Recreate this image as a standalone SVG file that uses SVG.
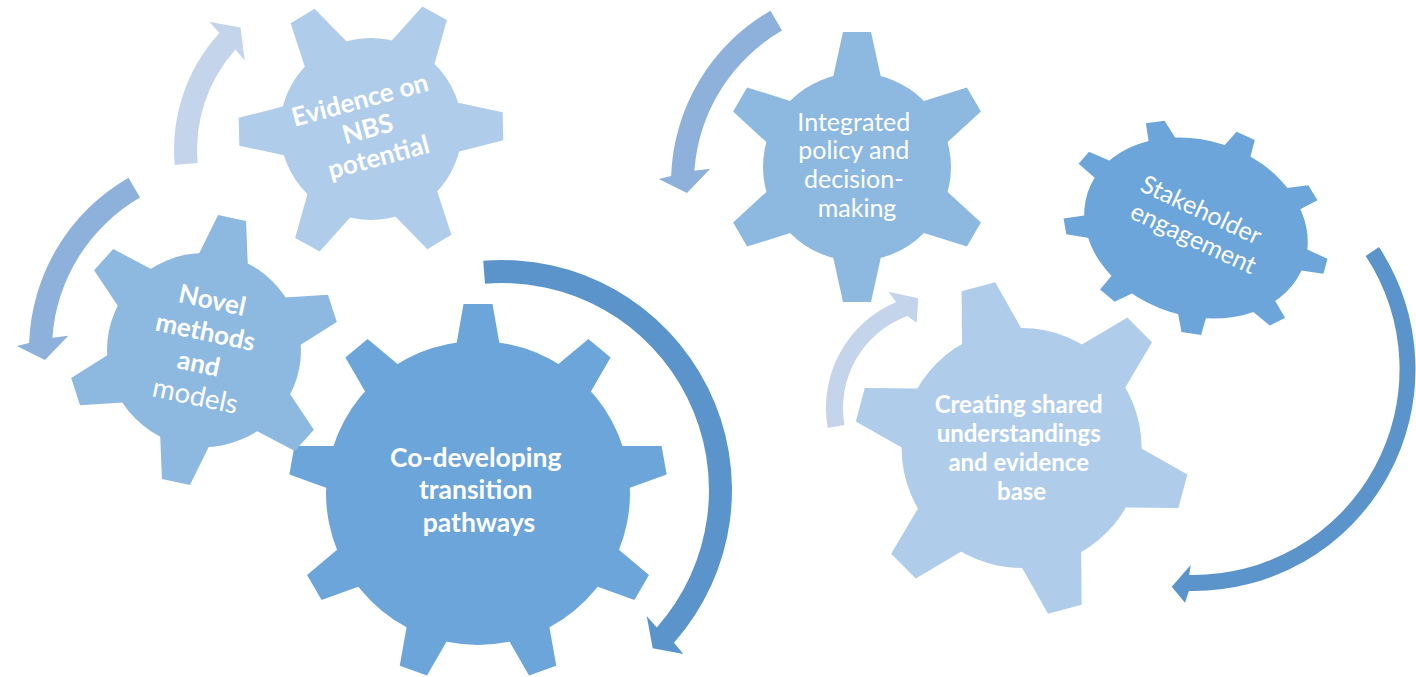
<svg xmlns="http://www.w3.org/2000/svg" xmlns:xlink="http://www.w3.org/1999/xlink" width="1416" height="677" viewBox="0 0 1416 677">
  <style>
    .g-light { fill: #AFCDEA; }
    .g-mid { fill: #8DB9E1; }
    .g-dark { fill: #6CA5D9; }
    .a-light { fill: #C4D5EB; }
    .a-mid { fill: #8EB1DB; }
    .a-dark { fill: #5A94CA; }
    .lbl { font-family: Lato, "Liberation Sans", sans-serif; fill: #FFFFFF; text-anchor: middle; }
    .b { font-weight: 700; }
    .r { font-weight: 400; }
  </style>
  <defs>
    <!-- one tooth per gear size, pointing up from the gear centre -->
    <path id="tooth-evidence" d="M-25.4,-83 L-14,-132 L14,-132 L25.4,-83Z"/>
    <path id="tooth-novel" d="M-26,-89 L-14.3,-135 L14.3,-135 L26,-89Z"/>
    <path id="tooth-codev" d="M-22.4,-144 L-14.5,-189 L14.5,-189 L22.4,-144Z"/>
    <path id="tooth-policy" d="M-24.8,-86 L-14,-135 L14,-135 L24.8,-86Z"/>
    <path id="tooth-stake" d="M-15.5,-106 L-10,-135 L10,-135 L15.5,-106Z"/>
    <path id="tooth-shared" d="M-31.6,-112 L-17.4,-167 L17.4,-167 L31.6,-112Z"/>
  </defs>

  <rect width="1416" height="677" fill="#FFFFFF"/>

  <!-- curved cycle arrows -->
  <g id="connectors">
    <path id="arrow-evidence" class="a-light" d="M174.7,165.1 A173,173 0 0 1 219.4,33.1 L209.3,21.7 L240.5,27.5 L244.8,60.7 L235.5,49.6 A150,150 0 0 0 197.6,163.1 Z"/>
    <path id="arrow-novel" class="a-mid" d="M128.5,177.7 A199,199 0 0 0 29.1,343.1 L16.7,346 L45,360 L68.3,335.7 L52.4,337.7 A176,176 0 0 1 140,197.6 Z"/>
    <path id="arrow-codev" class="a-dark" d="M483.2,260.8 A230,230 0 0 1 674,642.7 L683.3,654 L652.7,648.3 L646.7,616 L656.8,627.4 A207,207 0 0 0 485,283.7 Z"/>
    <path id="arrow-policy" class="a-mid" transform="translate(642,-167)" d="M128.5,177.7 A199,199 0 0 0 29.1,343.1 L16.7,346 L45,360 L68.3,335.7 L52.4,337.7 A176,176 0 0 1 140,197.6 Z"/>
    <path id="arrow-shared" class="a-light" d="M827.7,428 A115,115 0 0 1 896.1,302.1 L888.3,291.7 L918.3,298.3 L916.7,322.7 L907.5,315.9 A98,98 0 0 0 844.5,425 Z"/>
    <path id="arrow-stake" class="a-dark" d="M1379,247.1 A222,222 0 0 1 1188.9,591 L1185,602.7 L1171.7,586.7 L1190.7,565 L1189.2,575 A206,206 0 0 0 1365.7,255.9 Z"/>
  </g>

  <!-- Evidence on NBS potential -->
  <g id="gear-evidence" class="g-light" transform="translate(371,129)">
    <circle r="91"/>
    <use href="#tooth-evidence" transform="rotate(28.8)"/>
    <use href="#tooth-evidence" transform="rotate(88.8)"/>
    <use href="#tooth-evidence" transform="rotate(148.8)"/>
    <use href="#tooth-evidence" transform="rotate(208.8)"/>
    <use href="#tooth-evidence" transform="rotate(268.8)"/>
    <use href="#tooth-evidence" transform="rotate(328.8)"/>
    <text class="lbl b" font-size="26" transform="rotate(-15)">
      <tspan x="0" y="-22">Evidence on</tspan>
      <tspan x="0" y="8">NBS</tspan>
      <tspan x="0" y="38">potential</tspan>
    </text>
  </g>

  <!-- Co-developing transition pathways -->
  <g id="gear-codev" class="g-dark" transform="translate(478,493)">
    <circle r="152"/>
    <use href="#tooth-codev" transform="rotate(0)"/>
    <use href="#tooth-codev" transform="rotate(40)"/>
    <use href="#tooth-codev" transform="rotate(80)"/>
    <use href="#tooth-codev" transform="rotate(120)"/>
    <use href="#tooth-codev" transform="rotate(160)"/>
    <use href="#tooth-codev" transform="rotate(200)"/>
    <use href="#tooth-codev" transform="rotate(240)"/>
    <use href="#tooth-codev" transform="rotate(280)"/>
    <use href="#tooth-codev" transform="rotate(320)"/>
    <text class="lbl b" font-size="26.5">
      <tspan x="1" y="-26.5">Co-developing</tspan>
      <tspan x="1" y="6">transition</tspan>
      <tspan x="1" y="38.5">pathways</tspan>
    </text>
  </g>

  <!-- Novel methods and models -->
  <g id="gear-novel" class="g-mid" transform="translate(204,350)">
    <circle r="97"/>
    <use href="#tooth-novel" transform="rotate(12)"/>
    <use href="#tooth-novel" transform="rotate(72)"/>
    <use href="#tooth-novel" transform="rotate(132)"/>
    <use href="#tooth-novel" transform="rotate(192)"/>
    <use href="#tooth-novel" transform="rotate(252)"/>
    <use href="#tooth-novel" transform="rotate(312)"/>
    <text class="lbl" font-size="26" transform="rotate(12)">
      <tspan class="b" x="1" y="-41.5">Novel</tspan>
      <tspan class="b" x="1" y="-9">methods</tspan>
      <tspan class="b" x="1" y="23.5">and</tspan>
      <tspan class="r" x="1" y="56" font-size="27.5">models</tspan>
    </text>
  </g>

  <!-- Integrated policy and decision-making -->
  <g id="gear-policy" class="g-mid" transform="translate(857,167)">
    <circle r="94"/>
    <use href="#tooth-policy" transform="rotate(0)"/>
    <use href="#tooth-policy" transform="rotate(60)"/>
    <use href="#tooth-policy" transform="rotate(120)"/>
    <use href="#tooth-policy" transform="rotate(180)"/>
    <use href="#tooth-policy" transform="rotate(240)"/>
    <use href="#tooth-policy" transform="rotate(300)"/>
    <text class="lbl r" font-size="25">
      <tspan x="0" y="-36.3">Integrated</tspan>
      <tspan x="0" y="-7.6">policy and</tspan>
      <tspan x="0" y="21.1">decision-</tspan>
      <tspan x="0" y="49.8">making</tspan>
    </text>
  </g>

  <!-- Stakeholder engagement (oval gear) -->
  <g id="gear-stakeholder" transform="translate(1196,228)">
    <g class="g-dark" transform="rotate(18) scale(1,0.77)">
      <circle r="114"/>
      <use href="#tooth-stake" transform="rotate(8)"/>
      <use href="#tooth-stake" transform="rotate(48)"/>
      <use href="#tooth-stake" transform="rotate(88)"/>
      <use href="#tooth-stake" transform="rotate(128)"/>
      <use href="#tooth-stake" transform="rotate(168)"/>
      <use href="#tooth-stake" transform="rotate(208)"/>
      <use href="#tooth-stake" transform="rotate(248)"/>
      <use href="#tooth-stake" transform="rotate(288)"/>
      <use href="#tooth-stake" transform="rotate(328)"/>
    </g>
    <text class="lbl r" font-size="25" transform="rotate(25)">
      <tspan x="0" y="-10">Stakeholder</tspan>
      <tspan x="2" y="19">engagement</tspan>
    </text>
  </g>

  <!-- Creating shared understandings and evidence base -->
  <g id="gear-shared" class="g-light" transform="translate(1021.6,448)">
    <circle r="120"/>
    <use href="#tooth-shared" transform="rotate(-15)"/>
    <use href="#tooth-shared" transform="rotate(45)"/>
    <use href="#tooth-shared" transform="rotate(105)"/>
    <use href="#tooth-shared" transform="rotate(165)"/>
    <use href="#tooth-shared" transform="rotate(225)"/>
    <use href="#tooth-shared" transform="rotate(285)"/>
    <text class="lbl b" font-size="24">
      <tspan x="0" y="-35.5">Creating shared</tspan>
      <tspan x="0" y="-6.5">understandings</tspan>
      <tspan x="0" y="22.5">and evidence</tspan>
      <tspan x="0" y="51.5">base</tspan>
    </text>
  </g>
</svg>
